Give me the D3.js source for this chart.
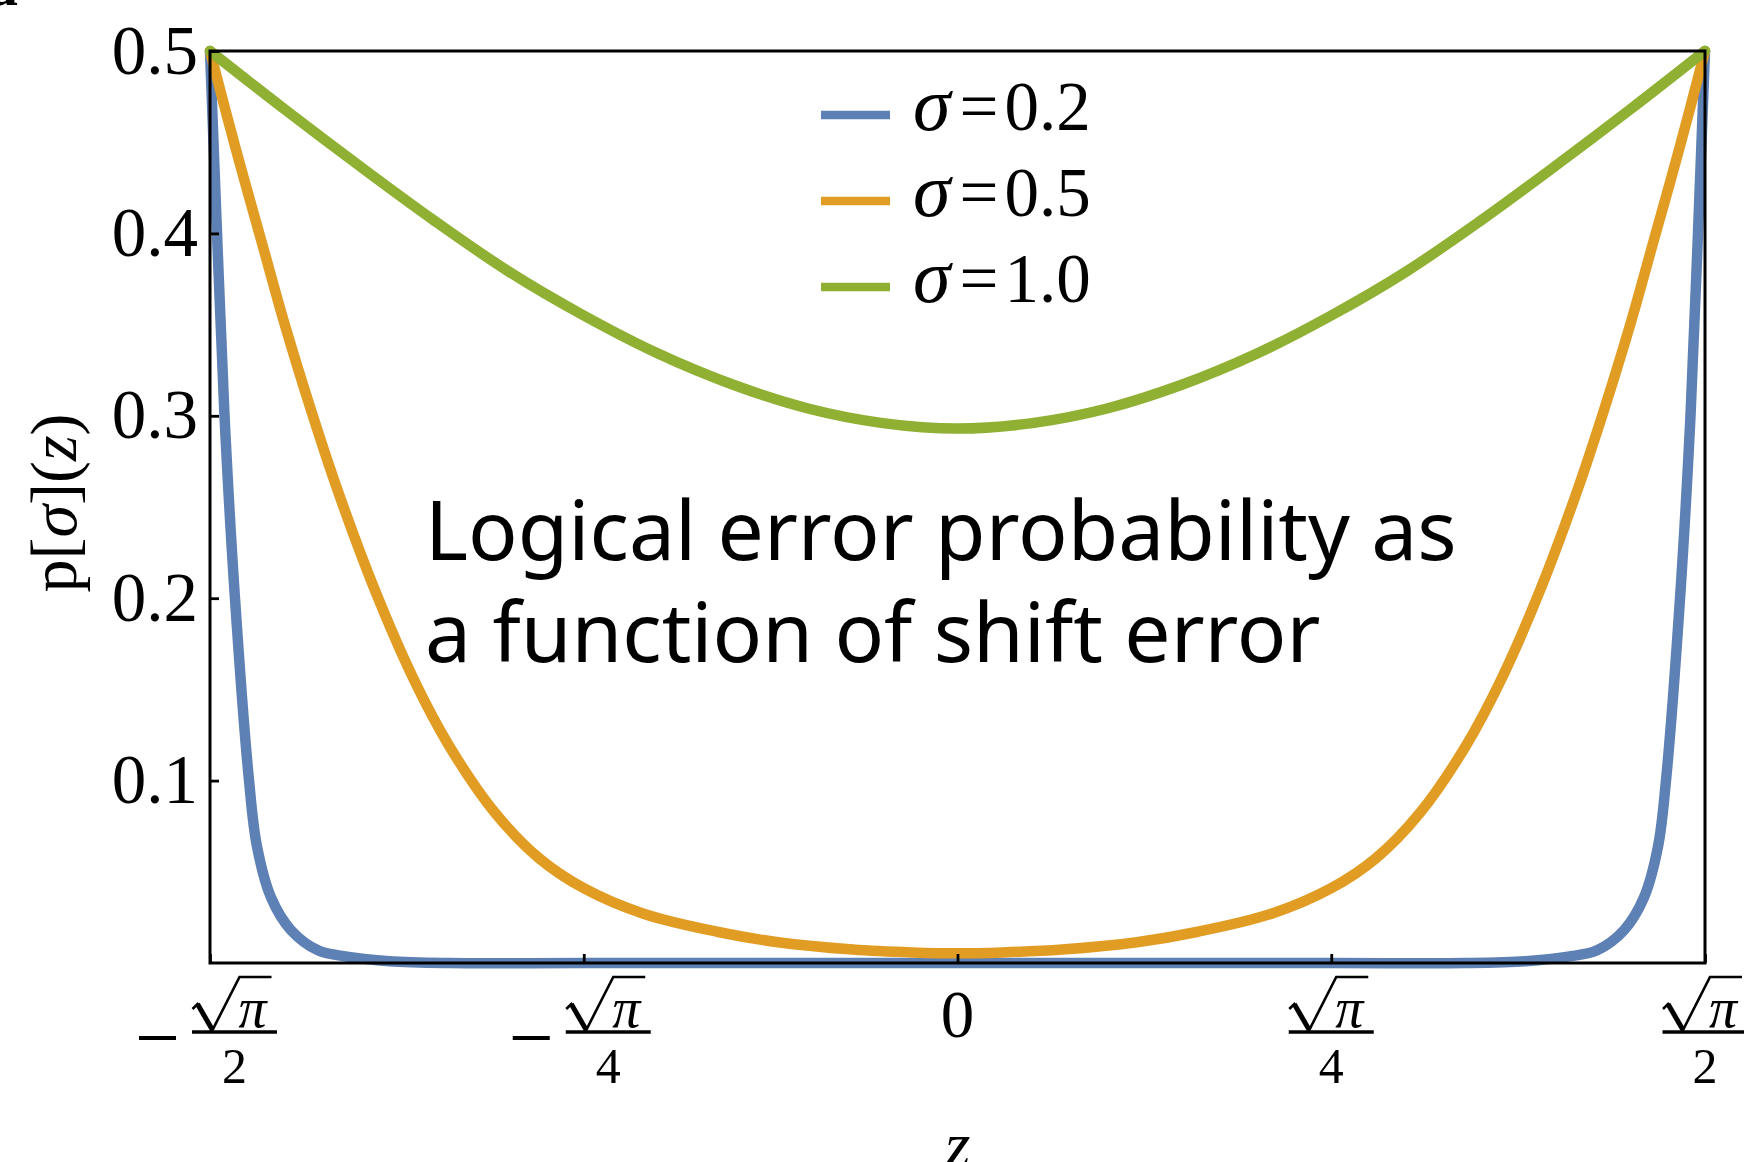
<!DOCTYPE html>
<html>
<head>
<meta charset="utf-8">
<script src="https://cdn.jsdelivr.net/npm/d3@7"></script>
<style>
  body { margin: 0; background: #fff; }
  svg { display: block; }
</style>
</head>
<body>
<svg id="chart" width="1744" height="1162"></svg>
<script>
// z is stored in units of sqrt(pi), so the frame runs from -1/2 to 1/2
var zBlue = [-0.5, -0.4953, -0.4903, -0.4833, -0.4739, -0.4686, -0.4592, -0.4458, -0.4278, -0.4084, -0.38, -0.34, -0.25, 0,
             0.25, 0.34, 0.38, 0.4084, 0.4278, 0.4458, 0.4592, 0.4686, 0.4739, 0.4833, 0.4903, 0.4953, 0.5];
var pBlue = [0.5, 0.4, 0.3, 0.2, 0.1, 0.064, 0.036, 0.018, 0.007, 0.0035, 0.001, 0, 0, 0,
             0, 0, 0.001, 0.0035, 0.007, 0.018, 0.036, 0.064, 0.1, 0.2, 0.3, 0.4, 0.5];

var zOrange = [-0.5, -0.483, -0.465, -0.45, -0.432, -0.415, -0.39, -0.364, -0.34, -0.31, -0.28, -0.25, -0.21, -0.16, -0.12, -0.07, -0.03, 0,
               0.03, 0.07, 0.12, 0.16, 0.21, 0.25, 0.28, 0.31, 0.34, 0.364, 0.39, 0.415, 0.432, 0.45, 0.465, 0.483, 0.5];
var pOrange = [0.5, 0.447, 0.394, 0.35, 0.302, 0.26, 0.205, 0.156, 0.119, 0.083, 0.0575, 0.041, 0.027, 0.017, 0.0114, 0.0074, 0.0058, 0.0053,
               0.0058, 0.0074, 0.0114, 0.017, 0.027, 0.041, 0.0575, 0.083, 0.119, 0.156, 0.205, 0.26, 0.302, 0.35, 0.394, 0.447, 0.5];

var zGreen = [-0.5, -0.45, -0.4, -0.35, -0.3, -0.25, -0.2, -0.15, -0.1, -0.05, 0,
              0.05, 0.1, 0.15, 0.2, 0.25, 0.3, 0.35, 0.4, 0.45, 0.5];
var pGreen = [0.5, 0.468, 0.437, 0.407, 0.379, 0.355, 0.334, 0.317, 0.304, 0.296, 0.293,
              0.296, 0.304, 0.317, 0.334, 0.355, 0.379, 0.407, 0.437, 0.468, 0.5];

var seriesNames = ["0.2", "0.5", "1.0"];
var seriesColors = ["#5e81b5", "#e19c24", "#8fb032"];

var yTicks = [0.1, 0.2, 0.3, 0.4, 0.5];
var xTicks = [-0.5, -0.25, 0, 0.25, 0.5];
var xTickLabels = ["-\u221a\u03c0/2", "-\u221a\u03c0/4", "0", "\u221a\u03c0/4", "\u221a\u03c0/2"];

var noteLines = ["Logical error probability as", "a function of shift error"];

var serif = "'Liberation Serif', 'Times New Roman', serif";

var svg = d3.select("#chart");
var margin = { top: 51, right: 39, bottom: 199, left: 210 };
var width = +svg.attr("width") - margin.left - margin.right;
var height = +svg.attr("height") - margin.top - margin.bottom;

var x = d3.scaleLinear().domain([-0.5, 0.5]).range([margin.left, margin.left + width]);
var y = d3.scaleLinear().domain([0, 0.5]).range([margin.top + height, margin.top]);

// stray bit of the panel letter cut off at the top left
svg.append("text")
    .attr("x", -12).attr("y", 5)
    .attr("font-family", serif).attr("font-size", 60).attr("font-weight", "bold")
    .text("a");

var series = [
    { z: zBlue, p: pBlue },
    { z: zOrange, p: pOrange },
    { z: zGreen, p: pGreen }
];

var line = d3.line()
    .x(function (d) { return x(d[0]); })
    .y(function (d) { return y(d[1]); })
    .curve(d3.curveCatmullRom.alpha(0.5));

svg.append("g").selectAll("path")
    .data(series)
    .enter().append("path")
    .attr("d", function (s) { return line(s.z.map(function (z, i) { return [z, s.p[i]]; })); })
    .attr("fill", "none")
    .attr("stroke", function (d, i) { return seriesColors[i]; })
    .attr("stroke-width", 10.5)
    .attr("stroke-linejoin", "round")
    .attr("stroke-linecap", "round");

// axes with inward ticks, frame drawn over them
var yAxis = svg.append("g")
    .attr("transform", "translate(" + margin.left + ",0)")
    .call(d3.axisLeft(y).tickValues(yTicks).tickSize(-9).tickPadding(12).tickFormat(d3.format(".1f")));
yAxis.select(".domain").remove();
yAxis.selectAll("line").attr("stroke", "#000").attr("stroke-width", 2.8);
yAxis.selectAll("text")
    .attr("font-family", serif).attr("font-size", 69).attr("fill", "#000");

var xAxis = svg.append("g")
    .attr("transform", "translate(0," + (margin.top + height) + ")")
    .call(d3.axisBottom(x).tickValues(xTicks).tickSize(-9).tickFormat(""));
xAxis.select(".domain").remove();
xAxis.selectAll("line").attr("stroke", "#000").attr("stroke-width", 2.8);

svg.append("rect")
    .attr("x", margin.left).attr("y", margin.top)
    .attr("width", width).attr("height", height)
    .attr("fill", "none").attr("stroke", "#000").attr("stroke-width", 3);

// x tick labels written as fractions of sqrt(pi)
var barY = margin.top + height + 69;
xTicks.forEach(function (t, i) {
    var lab = xTickLabels[i];
    var g = svg.append("g");
    if (lab.indexOf("/") < 0) {
        g.append("text")
            .attr("x", x(t)).attr("y", barY + 5)
            .attr("text-anchor", "middle")
            .attr("font-family", serif).attr("font-size", 67)
            .text(lab);
        return;
    }
    var neg = lab.charAt(0) === "-";
    var denom = lab.split("/")[1];
    var cx = x(t) + (neg ? 24.5 : 0);
    if (neg) {
        g.append("line")
            .attr("x1", cx - 95.5).attr("x2", cx - 58.5)
            .attr("y1", barY + 6).attr("y2", barY + 6)
            .attr("stroke", "#000").attr("stroke-width", 4);
    }
    g.append("line")
        .attr("x1", cx - 42.5).attr("x2", cx + 42.5)
        .attr("y1", barY).attr("y2", barY)
        .attr("stroke", "#000").attr("stroke-width", 3.5);
    g.append("path")
        .attr("d", "M" + (cx - 42) + "," + (barY - 23) + "L" + (cx - 37) + "," + (barY - 28) +
            "L" + (cx - 22) + "," + (barY - 2) + "L" + (cx + 5) + "," + (barY - 55) +
            "L" + (cx + 37) + "," + (barY - 55))
        .attr("fill", "none").attr("stroke", "#000").attr("stroke-width", 2.6);
    g.append("line")
        .attr("x1", cx - 37).attr("y1", barY - 28)
        .attr("x2", cx - 22).attr("y2", barY - 2)
        .attr("stroke", "#000").attr("stroke-width", 5);
    g.append("text")
        .attr("x", cx + 18).attr("y", barY - 5)
        .attr("text-anchor", "middle")
        .attr("font-family", serif).attr("font-style", "italic").attr("font-size", 56)
        .text("\u03c0");
    g.append("text")
        .attr("x", cx).attr("y", barY + 51)
        .attr("text-anchor", "middle")
        .attr("font-family", serif).attr("font-size", 50)
        .text(denom);
});

// axis titles
svg.append("text")
    .attr("x", x(0)).attr("y", 1167)
    .attr("text-anchor", "middle")
    .attr("font-family", serif).attr("font-style", "italic").attr("font-size", 66)
    .text("z");

var yTitle = svg.append("text")
    .attr("transform", "translate(76,503) rotate(-90)")
    .attr("text-anchor", "middle")
    .attr("font-family", serif).attr("font-size", 66);
yTitle.append("tspan").text("p[");
yTitle.append("tspan").attr("font-style", "italic").text("\u03c3");
yTitle.append("tspan").text("](");
yTitle.append("tspan").attr("font-style", "italic").text("z");
yTitle.append("tspan").text(")");

// legend
var legend = svg.append("g").selectAll("g")
    .data(seriesNames)
    .enter().append("g")
    .attr("transform", function (d, i) { return "translate(0," + (i * 86) + ")"; });
legend.append("line")
    .attr("x1", 821).attr("x2", 890)
    .attr("y1", 115).attr("y2", 115)
    .attr("stroke", function (d, i) { return seriesColors[i]; })
    .attr("stroke-width", 8.5);
var legText = legend.append("text")
    .attr("x", 913).attr("y", 130)
    .attr("font-family", serif).attr("font-size", 69);
legText.append("tspan").attr("font-style", "italic").attr("font-size", 76).text("\u03c3");
legText.append("tspan").attr("dx", 9).text("=");
legText.append("tspan").attr("dx", 6).text(function (d) { return d; });

// note inside the plot
var note = svg.append("text")
    .attr("font-family", "'Noto Sans', 'Open Sans', sans-serif")
    .attr("font-size", 84)
    .attr("fill", "#000");
note.selectAll("tspan")
    .data(noteLines)
    .enter().append("tspan")
    .attr("x", 425)
    .attr("y", function (d, i) { return 560 + i * 102; })
    .text(function (d) { return d; });
var w = note.select("tspan").node().getComputedTextLength();
note.attr("font-size", 84 * 1032 / w);
</script>
</body>
</html>
